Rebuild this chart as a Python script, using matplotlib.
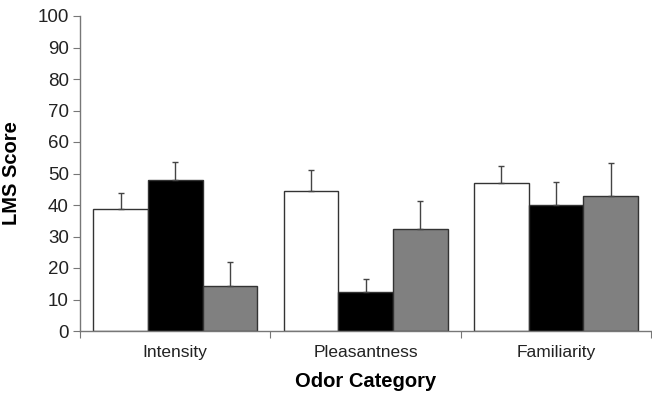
import matplotlib
matplotlib.use("Agg")
import matplotlib.pyplot as plt
import numpy as np

plt.rcParams['font.family'] = ['Liberation Sans', 'DejaVu Sans']

categories = ["Intensity", "Pleasantness", "Familiarity"]
white_vals = [38.7, 44.5, 46.9]
black_vals = [47.8, 12.5, 40.0]
gray_vals = [14.2, 32.3, 42.8]
white_err = [5.2, 6.6, 5.5]
black_err = [5.8, 3.9, 7.4]
gray_err = [7.7, 8.9, 10.6]
yticks = [0, 10, 20, 30, 40, 50, 60, 70, 80, 90, 100]

fig = plt.figure(figsize=(6.52, 3.93), dpi=100)
ax = fig.add_axes([80/652, 1-331/393, 1-80/652-0.001, (331-16)/393])

x = np.arange(len(categories)) + 0.5
w = 0.287
series = [(white_vals, white_err, "white"), (black_vals, black_err, "black"), (gray_vals, gray_err, "#808080")]
for i, (vals, errs, col) in enumerate(series):
    pos = x + (i - 1) * w
    ax.bar(pos, vals, width=w, color=col, edgecolor="#333333", linewidth=1.0, zorder=2)
    ax.errorbar(pos, vals, yerr=[np.zeros(len(vals)), errs], fmt="none", ecolor="#444444",
                elinewidth=1.0, capsize=2.5, capthick=1.0, zorder=3)

ax.set_xlim(0, 3)
ax.set_ylim(0, 100)
ax.set_yticks(yticks)
ax.set_xticks([0, 1, 2, 3])
ax.set_xticklabels([])
ax.set_xticks(x, minor=True)
ax.set_xticklabels(categories, minor=True, fontsize=12.5, color="#222222")
ax.tick_params(axis="x", which="minor", length=0, pad=10)
ax.tick_params(axis="x", which="major", length=5, color="#777777", direction="out")
ax.tick_params(axis="y", length=5, color="#777777", labelsize=13.5, pad=3, labelcolor="#222222")
for s in ["top", "right"]:
    ax.spines[s].set_visible(False)
for s in ["left", "bottom"]:
    ax.spines[s].set_color("#777777")
    ax.spines[s].set_linewidth(1.0)

ax.set_ylabel("LMS Score", fontsize=14.5, fontweight="bold", labelpad=12)
ax.set_xlabel("Odor Category", fontsize=14.5, fontweight="bold", labelpad=9)

fig.savefig("out.png", dpi=100)
